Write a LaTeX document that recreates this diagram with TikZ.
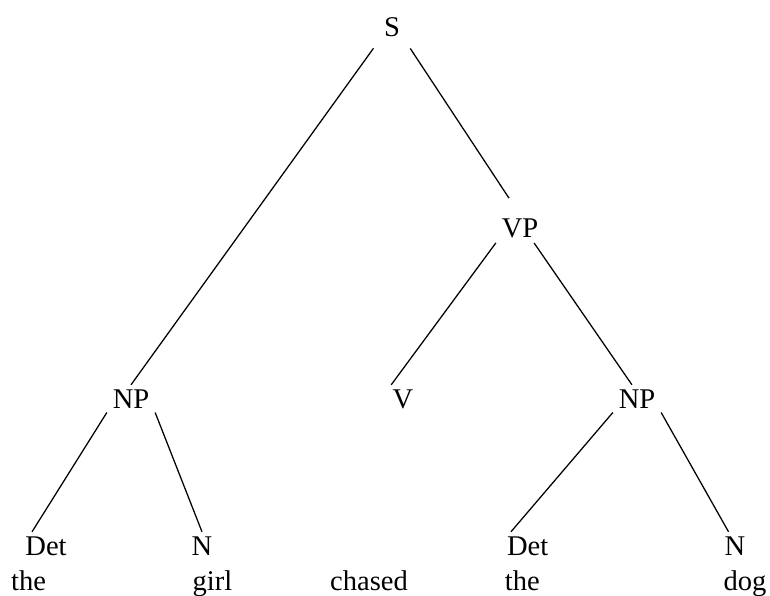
\documentclass[tikz,border=0pt]{standalone}
\usepackage{fontspec}
\setmainfont{Liberation Serif}
\usepackage{tikz}
\usetikzlibrary{positioning, calc}
\tikzset{
  cat/.style={
    anchor=base, inner xsep=4pt, inner ysep=3pt,
    font=\fontsize{20.3}{24}\selectfont
  },
  word/.style={cat, inner sep=0pt},
  branch/.style={draw, line width=0.9pt},
}

\begin{document}
\begin{tikzpicture}
  \useasboundingbox (0,0) rectangle (19.25,-14.9);

  \node[cat] (S)   at (9.8,-0.925)   {S};
  \node[cat] (VP)  at (13.0,-5.95)   {VP};
  \node[cat] (NPa) at (3.275,-10.2)  {NP};
  \node[cat] (V)   at (10.075,-10.2) {V};
  \node[cat] (NPb) at (15.925,-10.2) {NP};
  \node[cat] (Deta) at (1.15,-13.875)  {Det};
  \node[cat] (Na)   at (5.05,-13.875)  {N};
  \node[cat] (Detb) at (13.19,-13.875) {Det};
  \node[cat] (Nb)   at (18.375,-13.875) {N};

  \node[word] (the1)   at (0.7125,-14.75) {the};
  \node[word] (girl)   at (5.3125,-14.75) {girl};
  \node[word] (chased) at (9.225,-14.75)  {chased};
  \node[word] (the2)   at (13.06,-14.75)  {the};
  \node[word] (dog)    at (18.625,-14.75) {dog};

  \draw[branch, shorten <=0.2cm] (S.south west) -- (NPa.north);
  \draw[branch, shorten <=0.2cm, shorten >=0.5cm] (S.south east) -- (VP.north);
  \draw[branch] (VP.south west) -- (V.130);
  \draw[branch] (VP.-45) -- (NPb.110);
  \draw[branch] (NPa.south west) -- (Deta.135);
  \draw[branch] (NPa.south east) -- (Na.north);
  \draw[branch] (NPb.south west) -- (Detb.140);
  \draw[branch] (NPb.south east) -- (Nb.115);
\end{tikzpicture}
\end{document}
